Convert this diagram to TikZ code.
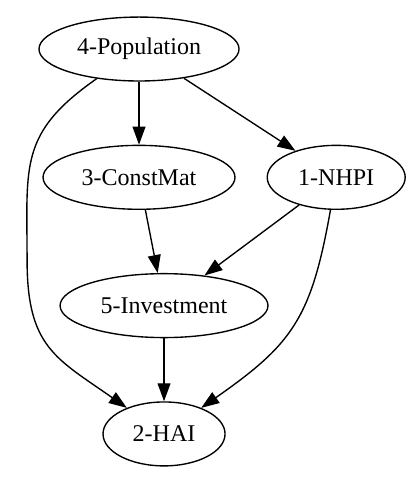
\documentclass[tikz,border=0pt]{standalone}
\usepackage{fontspec}
\setmainfont{Liberation Serif}
\usetikzlibrary{arrows.meta, shapes.geometric, positioning}

\begin{document}
\begin{tikzpicture}[
    node distance=36.75pt and 18pt,
    var/.style={ellipse, draw, line width=0.8pt, minimum height=37.3pt,
                inner sep=0pt, font=\fontsize{14}{16}\selectfont},
    arr/.style={-{Triangle[length=10.5pt, width=7.5pt]}, line width=0.8pt}
  ]
  \useasboundingbox (-81.1pt,28.6pt) rectangle (163.3pt,-252.6pt);

  \node[var, minimum width=116.7pt] (pop) {4-Population};
  \node[var, minimum width=112pt, below=of pop] (const) {3-ConstMat};
  \node[var, minimum width=80.5pt, right=of const] (nhpi) {1-NHPI};
  \node[var, minimum width=121.3pt, below=of const, xshift=14.6pt] (inv) {5-Investment};
  \node[var, minimum width=71.2pt, below=of inv] (hai) {2-HAI};
  \coordinate (bend) at (-65.3pt,-123.1pt);

  \draw[arr] (pop) -- (const);
  \draw[arr] (pop) -- (nhpi);
  \draw[arr] (pop) to[out=215, in=90, looseness=1.25] (bend)
                   to[out=-90, in=145, looseness=1.25] (hai);
  \draw[arr] (const) -- (inv);
  \draw[arr] (nhpi) -- (inv);
  \draw[arr] (nhpi) to[out=-100, in=35, looseness=1.2] (hai);
  \draw[arr] (inv) -- (hai);
\end{tikzpicture}
\end{document}
